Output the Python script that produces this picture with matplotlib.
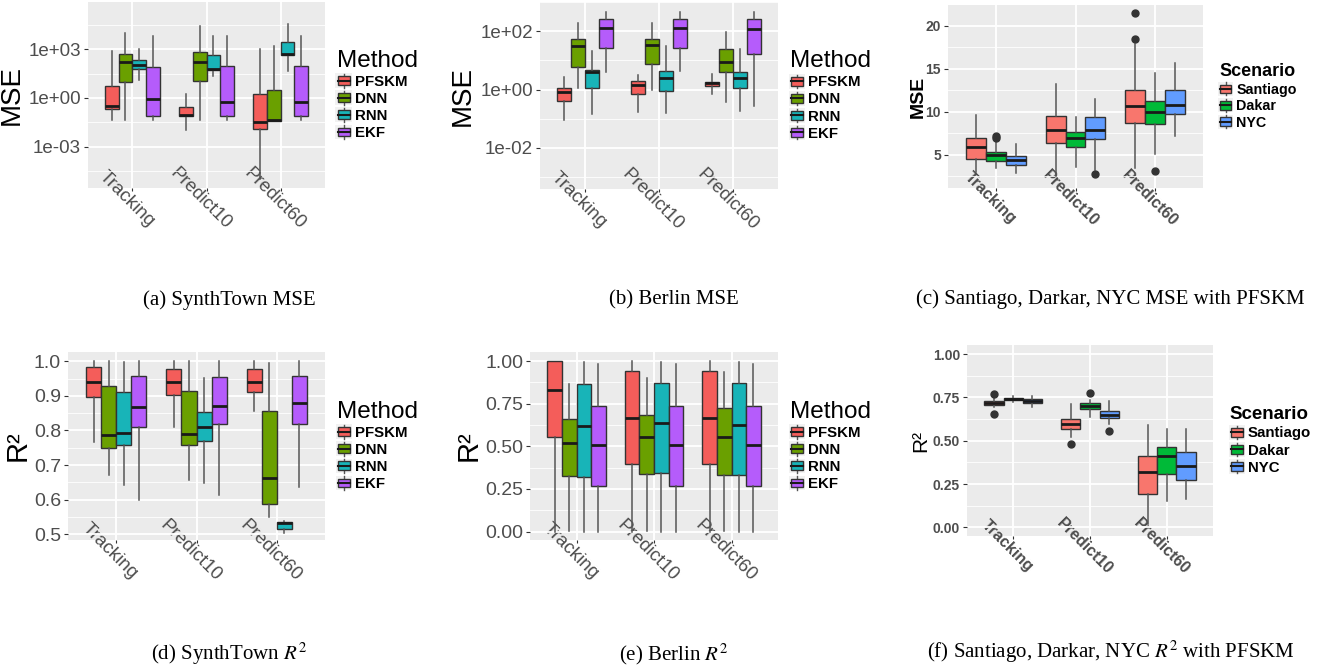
import matplotlib
matplotlib.use('Agg')
import matplotlib.pyplot as plt
import matplotlib.ticker as mticker
from matplotlib.legend_handler import HandlerBase
from matplotlib.patches import Rectangle, Patch
from matplotlib.lines import Line2D
import numpy as np

plt.rcParams['font.family'] = ['Liberation Sans', 'DejaVu Sans']
plt.rcParams['mathtext.fontset'] = 'stix'

W, H = 1322, 668

# ---------------- data ----------------
categories = ['Tracking', 'Predict10', 'Predict60']
methods = ['PFSKM', 'DNN', 'RNN', 'EKF']
scenarios = ['Santiago', 'Dakar', 'NYC']
method_colors = ['#F45D5A', '#6AA000', '#18B4B8', '#B55CFB']
scenario_colors = ['#F8766D', '#00BA38', '#619CFF']

# five-number summaries per category: [whisker low, Q1, median, Q3, whisker high]
synth_mse = {
    'PFSKM': [[0.041, 0.195, 0.31, 5.75, 724], [0.0105, 0.076, 0.095, 0.27, 1.74], [1e-5, 0.0115, 0.032, 1.86, 1000]],
    'DNN':   [[0.041, 9.1, 166, 513, 10470], [0.041, 10.5, 166, 660, 26900], [0.038, 0.039, 0.041, 2.95, 1660]],
    'RNN':   [[13.2, 63, 110, 204, 1047], [23.4, 56, 63, 407, 6900], [42.7, 427, 490, 2570, 33900]],
    'EKF':   [[0.041, 0.079, 0.91, 79, 6600], [0.041, 0.079, 0.54, 91, 6600], [0.041, 0.079, 0.575, 95, 6600]],
}
berlin_mse = {
    'PFSKM': [[0.093, 0.39, 0.85, 1.11, 2.7], [0.166, 0.68, 1.45, 1.9, 3.16], [0.69, 1.29, 1.62, 1.86, 3.3]],
    'DNN':   [[1.11, 6.0, 31.6, 53.7, 186], [0.95, 7.4, 34.7, 55, 190], [0.38, 3.9, 8.9, 24, 93]],
    'RNN':   [[0.145, 1.11, 3.9, 4.8, 20.4], [0.155, 0.87, 2.4, 4.27, 30.2], [0.19, 1.15, 2.4, 4.07, 24.5]],
    'EKF':   [[4.0, 26.3, 132, 263, 457], [4.17, 27.5, 132, 263, 437], [0.28, 16.6, 123, 263, 437]],
}
city_mse = {
    'Santiago': [[3.0, 4.5, 5.93, 6.9, 9.65], [2.48, 6.32, 7.91, 9.53, 13.2], [3.45, 8.68, 10.7, 12.56, 17.9]],
    'Dakar':    [[3.45, 4.3, 5.0, 5.27, 6.43], [3.53, 5.85, 6.9, 7.64, 9.42], [5.08, 8.6, 10.0, 11.24, 14.57]],
    'NYC':      [[2.87, 3.84, 4.38, 4.88, 6.28], [3.26, 6.86, 7.87, 9.42, 11.5], [7.13, 9.77, 10.74, 12.48, 15.74]],
}
city_mse_outliers = {
    'Santiago': [[], [], [18.5, 21.5]],
    'Dakar':    [[7.0, 7.15], [], [3.14]],
    'NYC':      [[], [2.79], []],
}
synth_r2 = {
    'PFSKM': [[0.768, 0.897, 0.94, 0.984, 1.0], [0.811, 0.903, 0.94, 0.979, 1.0], [0.855, 0.910, 0.941, 0.979, 1.0]],
    'DNN':   [[0.671, 0.748, 0.786, 0.929, 1.0], [0.657, 0.759, 0.790, 0.913, 1.0], [0.550, 0.588, 0.661, 0.855, 0.994]],
    'RNN':   [[0.642, 0.759, 0.792, 0.911, 0.997], [0.649, 0.769, 0.811, 0.854, 0.951], [0.504, 0.515, 0.533, 0.536, 0.537]],
    'EKF':   [[0.600, 0.809, 0.868, 0.958, 1.0], [0.613, 0.818, 0.870, 0.956, 1.0], [0.637, 0.819, 0.879, 0.959, 1.0]],
}
berlin_r2 = {
    'PFSKM': [[0.0, 0.552, 0.832, 1.0, 1.0], [0.0, 0.396, 0.669, 0.94, 1.0], [0.0, 0.396, 0.669, 0.94, 1.0]],
    'DNN':   [[0.006, 0.327, 0.520, 0.663, 0.867], [0.006, 0.335, 0.552, 0.684, 0.903], [0.006, 0.331, 0.552, 0.727, 0.936]],
    'RNN':   [[0.0, 0.322, 0.620, 0.864, 0.994], [0.0, 0.341, 0.635, 0.869, 0.994], [0.0, 0.331, 0.624, 0.869, 0.994]],
    'EKF':   [[0.0, 0.267, 0.509, 0.739, 0.984], [0.0, 0.267, 0.509, 0.739, 0.984], [0.0, 0.267, 0.509, 0.739, 0.984]],
}
city_r2 = {
    'Santiago': [[0.692, 0.703, 0.715, 0.728, 0.757], [0.522, 0.570, 0.599, 0.626, 0.711], [0.021, 0.193, 0.320, 0.412, 0.588]],
    'Dakar':    [[0.723, 0.732, 0.740, 0.746, 0.757], [0.638, 0.680, 0.699, 0.719, 0.734], [0.150, 0.310, 0.410, 0.461, 0.570]],
    'NYC':      [[0.692, 0.719, 0.730, 0.740, 0.757], [0.599, 0.628, 0.647, 0.672, 0.728], [0.162, 0.272, 0.353, 0.437, 0.570]],
}
city_r2_outliers = {
    'Santiago': [[0.767, 0.655], [0.480], []],
    'Dakar':    [[], [0.776], []],
    'NYC':      [[], [0.557], []],
}

captions = ['(a) SynthTown MSE', '(b) Berlin MSE', '(c) Santiago, Darkar, NYC MSE with PFSKM',
            '(d) SynthTown $R^2$', '(e) Berlin $R^2$', '(f) Santiago, Darkar, NYC $R^2$ with PFSKM']

# ---------------- helpers ----------------
fig = plt.figure(figsize=(W / 100, H / 100), dpi=100)


def add_ax(l, t, r, b):
    return fig.add_axes([l / W, 1 - b / H, (r - l) / W, (b - t) / H])


class BoxKey(HandlerBase):
    def create_artists(self, legend, orig_handle, xdescent, ydescent, width, height, fontsize, trans):
        fc = orig_handle.get_facecolor()
        x0, y0 = -xdescent, -ydescent
        bg = Rectangle((x0 - 1, y0), width + 2, height, facecolor='#F2F2F2', edgecolor='none', transform=trans)
        cx = x0 + width / 2
        wl = Line2D([cx, cx], [y0 + 0.04 * height, y0 + 0.96 * height], color='#555555', lw=1.0, transform=trans)
        box = Rectangle((x0 + 0.06 * width, y0 + 0.2 * height), 0.88 * width, 0.6 * height,
                        facecolor=fc, edgecolor='#333333', lw=1.0, transform=trans)
        med = Line2D([x0 + 0.06 * width, x0 + 0.94 * width], [y0 + height / 2] * 2, color='#1a1a1a', lw=1.5,
                     transform=trans)
        return [bg, wl, box, med]


def draw_boxes(ax, data, groups, colors, width, outliers=None):
    n = len(groups)
    pos = np.arange(1, len(categories) + 1)
    for gi, g in enumerate(groups):
        off = (gi - (n - 1) / 2) * width
        stats = []
        for ci in range(len(categories)):
            lo, q1, med, q3, hi = data[g][ci]
            fl = outliers[g][ci] if outliers else []
            stats.append(dict(whislo=lo, q1=q1, med=med, q3=q3, whishi=hi, fliers=fl))
        ax.bxp(stats, positions=pos + off, widths=width, patch_artist=True, showcaps=False,
               manage_ticks=False,
               boxprops=dict(facecolor=colors[gi], edgecolor='#333333', linewidth=1.0),
               medianprops=dict(color='#1a1a1a', linewidth=2.0),
               whiskerprops=dict(color='#555555', linewidth=1.1),
               flierprops=dict(marker='o', markerfacecolor='#333333', markeredgecolor='#333333',
                               markersize=5, linestyle='none'))


def style(ax, xsize, ysize, bold=False):
    ax.set_facecolor('#EBEBEB')
    for s in ax.spines.values():
        s.set_visible(False)
    ax.set_axisbelow(True)
    ax.grid(which='major', color='white', linewidth=1.3)
    ax.grid(which='minor', axis='y', color='white', linewidth=0.6)
    ax.set_xlim(0.4, 3.6)
    ax.set_xticks(np.arange(1, len(categories) + 1))
    ax.xaxis.set_minor_locator(mticker.NullLocator())
    w = 'bold' if bold else 'normal'
    ax.set_xticklabels(categories, rotation=-45, ha='center', va='top', rotation_mode='anchor',
                       fontsize=xsize, fontweight=w, color='#4D4D4D')
    ax.tick_params(axis='x', which='major', color='#333333', length=2.5, width=0.8, pad=1)
    ax.tick_params(axis='y', which='major', color='#333333', length=3, width=0.8, pad=2,
                   labelsize=ysize, labelcolor='#4D4D4D')
    ax.tick_params(axis='y', which='minor', length=0)
    for lab in ax.get_yticklabels():
        lab.set_fontweight(w)


def add_legend(ax, groups, colors, x, title, tsize, esize, tbold):
    handles = [Patch(facecolor=c) for c in colors]
    leg = ax.legend(handles, groups, loc='center left', bbox_to_anchor=(x, 0.5), frameon=False,
                    handler_map={Patch: BoxKey()}, handlelength=0.9, handleheight=1.15,
                    labelspacing=0.1, handletextpad=0.3, borderpad=0, borderaxespad=0,
                    alignment='left', title=title,
                    title_fontproperties={'size': tsize, 'weight': 'bold' if tbold else 'normal'},
                    prop={'size': esize, 'weight': 'bold'})
    return leg


def log_fmt(v, p):
    e = int(round(np.log10(v)))
    return '1e%s%02d' % ('+' if e >= 0 else '-', abs(e))


# ---------------- (a) SynthTown MSE ----------------
ax = add_ax(88, 2, 325, 188)
ax.set_yscale('log')
draw_boxes(ax, synth_mse, methods, method_colors, 0.1875)
ax.set_ylim(10 ** -5.54, 10 ** 5.9)
ax.yaxis.set_major_locator(mticker.FixedLocator([1e-3, 1e0, 1e3]))
ax.yaxis.set_minor_locator(mticker.FixedLocator([10 ** -4.5, 10 ** -1.5, 10 ** 1.5, 10 ** 4.5]))
ax.yaxis.set_major_formatter(mticker.FuncFormatter(log_fmt))
ax.yaxis.set_minor_formatter(mticker.NullFormatter())
style(ax, 13.5, 13.5)
ax.set_ylabel('MSE', fontsize=20)
ax.yaxis.set_label_coords(-0.265, 0.5)
add_legend(ax, methods, method_colors, 1.05, 'Method', 17.5, 10.8, False)

# ---------------- (b) Berlin MSE ----------------
ax = add_ax(540, 2, 778, 189)
ax.set_yscale('log')
draw_boxes(ax, berlin_mse, methods, method_colors, 0.1875)
ax.set_ylim(10 ** -3.41, 10 ** 3.0)
ax.yaxis.set_major_locator(mticker.FixedLocator([1e-2, 1e0, 1e2]))
ax.yaxis.set_minor_locator(mticker.FixedLocator([1e-3, 1e-1, 1e1, 1e3]))
ax.yaxis.set_major_formatter(mticker.FuncFormatter(log_fmt))
ax.yaxis.set_minor_formatter(mticker.NullFormatter())
style(ax, 13.5, 13.5)
ax.set_ylabel('MSE', fontsize=20)
ax.yaxis.set_label_coords(-0.27, 0.5)
add_legend(ax, methods, method_colors, 1.05, 'Method', 17.5, 10.8, False)

# ---------------- (c) City MSE ----------------
ax = add_ax(948, 5, 1203, 188)
draw_boxes(ax, city_mse, scenarios, scenario_colors, 0.25, city_mse_outliers)
ax.set_ylim(1.12, 22.44)
ax.yaxis.set_major_locator(mticker.FixedLocator([5, 10, 15, 20]))
ax.yaxis.set_minor_locator(mticker.FixedLocator([2.5, 7.5, 12.5, 17.5]))
style(ax, 11.5, 10, bold=True)
ax.set_ylabel('MSE', fontsize=14, fontweight='bold')
ax.yaxis.set_label_coords(-0.085, 0.5)
add_legend(ax, scenarios, scenario_colors, 1.063, 'Scenario', 13, 10.3, True)

# ---------------- (d) SynthTown R2 ----------------
ax = add_ax(68, 352, 325, 540)
draw_boxes(ax, synth_r2, methods, method_colors, 0.1875)
ax.set_ylim(0.483, 1.027)
ax.yaxis.set_major_locator(mticker.FixedLocator([0.5, 0.6, 0.7, 0.8, 0.9, 1.0]))
ax.yaxis.set_minor_locator(mticker.FixedLocator([0.55, 0.65, 0.75, 0.85, 0.95]))
ax.yaxis.set_major_formatter(mticker.FormatStrFormatter('%.1f'))
style(ax, 13.5, 14)
ax.set_ylabel('R²', fontsize=21)
ax.yaxis.set_label_coords(-0.14, 0.5)
add_legend(ax, methods, method_colors, 1.047, 'Method', 17.5, 10.8, False)

# ---------------- (e) Berlin R2 ----------------
ax = add_ax(530, 352, 778, 540)
draw_boxes(ax, berlin_r2, methods, method_colors, 0.1875)
ax.set_ylim(-0.049, 1.053)
ax.yaxis.set_major_locator(mticker.FixedLocator([0, 0.25, 0.5, 0.75, 1.0]))
ax.yaxis.set_minor_locator(mticker.FixedLocator([0.125, 0.375, 0.625, 0.875]))
ax.yaxis.set_major_formatter(mticker.FormatStrFormatter('%.2f'))
style(ax, 13.5, 14)
ax.set_ylabel('R²', fontsize=21)
ax.yaxis.set_label_coords(-0.19, 0.5)
add_legend(ax, methods, method_colors, 1.048, 'Method', 17.5, 10.8, False)

# ---------------- (f) City R2 ----------------
ax = add_ax(967, 345, 1213, 536)
draw_boxes(ax, city_r2, scenarios, scenario_colors, 0.25, city_r2_outliers)
ax.set_ylim(-0.05, 1.052)
ax.yaxis.set_major_locator(mticker.FixedLocator([0, 0.25, 0.5, 0.75, 1.0]))
ax.yaxis.set_minor_locator(mticker.FixedLocator([0.125, 0.375, 0.625, 0.875]))
ax.yaxis.set_major_formatter(mticker.FormatStrFormatter('%.2f'))
style(ax, 11.5, 10, bold=True)
ax.set_ylabel('R²', fontsize=15)
ax.yaxis.set_label_coords(-0.15, 0.5)
add_legend(ax, scenarios, scenario_colors, 1.069, 'Scenario', 13.5, 10.8, True)

# ---------------- captions ----------------
cap_pos = [(229, 300), (674, 300), (1110, 299), (229, 654), (674, 654), (1111, 652)]
for (cx, cy), txt in zip(cap_pos, captions):
    fig.text(cx / W, 1 - cy / H, txt, ha='center', va='center', family='Liberation Serif', fontsize=15)

fig.savefig('out.png', dpi=100)
